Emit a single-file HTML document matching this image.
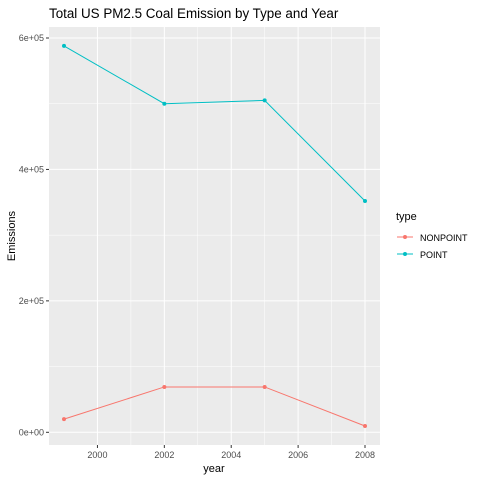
<!DOCTYPE html>
<html><head><meta charset="utf-8"><style>
body{margin:0;background:#fff;font-family:"Liberation Sans",sans-serif}
</style></head><body>
<svg id="c" width="480" height="480" xmlns="http://www.w3.org/2000/svg">
<text x="49" y="18" font-size="13.4" fill="#000">Total US PM2.5 Coal Emission by Type and Year</text>
<rect x="49" y="27" width="331" height="418" fill="#ebebeb"/>
<g id="grid"></g><g id="axes"></g><g id="series"></g>
<text x="214" y="472" font-size="11" fill="#000" text-anchor="middle">year</text>
<text transform="translate(15,236) rotate(-90)" font-size="11" fill="#000" text-anchor="middle">Emissions</text>
<g>
<text x="396" y="220" font-size="11">type</text>
<g><line x1="397" y1="237" x2="413" y2="237" stroke="#F8766D"/><circle cx="405" cy="237" r="2" fill="#F8766D"/><text x="420" y="241" font-size="9" fill="#000">NONPOINT</text></g>
<g><line x1="397" y1="254" x2="413" y2="254" stroke="#00BFC4"/><circle cx="405" cy="254" r="2" fill="#00BFC4"/><text x="420" y="258" font-size="9" fill="#000">POINT</text></g>
</g>
</svg>
<script>
const years=[1999,2002,2005,2008];
const pointVals=[588000,500000,505000,352000];
const nonpointVals=[20000,69000,69000,9600];
const xTicks=[2000,2002,2004,2006,2008];
const yTicks=[0,200000,400000,600000];
const yTickLabels=["0e+00","2e+05","4e+05","6e+05"];
const NS="http://www.w3.org/2000/svg";
const X=v=>64+(v-1999)*(301/9);
const Y=v=>432.3-v*(394.3/600000);
function mk(t,a,p){const e=document.createElementNS(NS,t);for(const k in a)e.setAttribute(k,a[k]);p.appendChild(e);return e;}
const g=document.getElementById('grid'),ax=document.getElementById('axes'),s=document.getElementById('series');
for(let i=0;i<xTicks.length-1;i++){const m=mk('line',{x1:X(xTicks[i]+1),x2:X(xTicks[i]+1),y1:27,y2:445,stroke:'#fff','stroke-width':0.5},g);

}
for(let i=0;i<yTicks.length-1;i++){const v=(yTicks[i]+yTicks[i+1])/2;const m=mk('line',{x1:49,x2:380,y1:Y(v),y2:Y(v),stroke:'#fff','stroke-width':0.5},g);

}
xTicks.forEach(t=>{const l=mk('line',{x1:X(t),x2:X(t),y1:27,y2:445,stroke:'#fff','stroke-width':1},g);


mk('line',{x1:X(t),x2:X(t),y1:445,y2:448,stroke:'#333'},ax);
const tx=mk('text',{x:X(t),y:458,'font-size':9,fill:'#4d4d4d','text-anchor':'middle'},ax);tx.textContent=t;

});
yTicks.forEach((t,i)=>{const l=mk('line',{x1:49,x2:380,y1:Y(t),y2:Y(t),stroke:'#fff','stroke-width':1},g);


mk('line',{x1:46,x2:49,y1:Y(t),y2:Y(t),stroke:'#333'},ax);
const tx=mk('text',{x:44,y:Y(t)+3,'font-size':9,fill:'#4d4d4d','text-anchor':'end'},ax);tx.textContent=yTickLabels[i];

});
function draw(vals,col,name){const pl=mk('polyline',{points:years.map((y,i)=>X(y)+','+Y(vals[i])).join(' '),fill:'none',stroke:col,'stroke-width':1},s);


years.forEach((y,i)=>{const c=mk('circle',{cx:X(y),cy:Y(vals[i]),r:2,fill:col},s);

});}
draw(nonpointVals,'#F8766D','nonpoint');
draw(pointVals,'#00BFC4','point');
</script>
</body></html>
